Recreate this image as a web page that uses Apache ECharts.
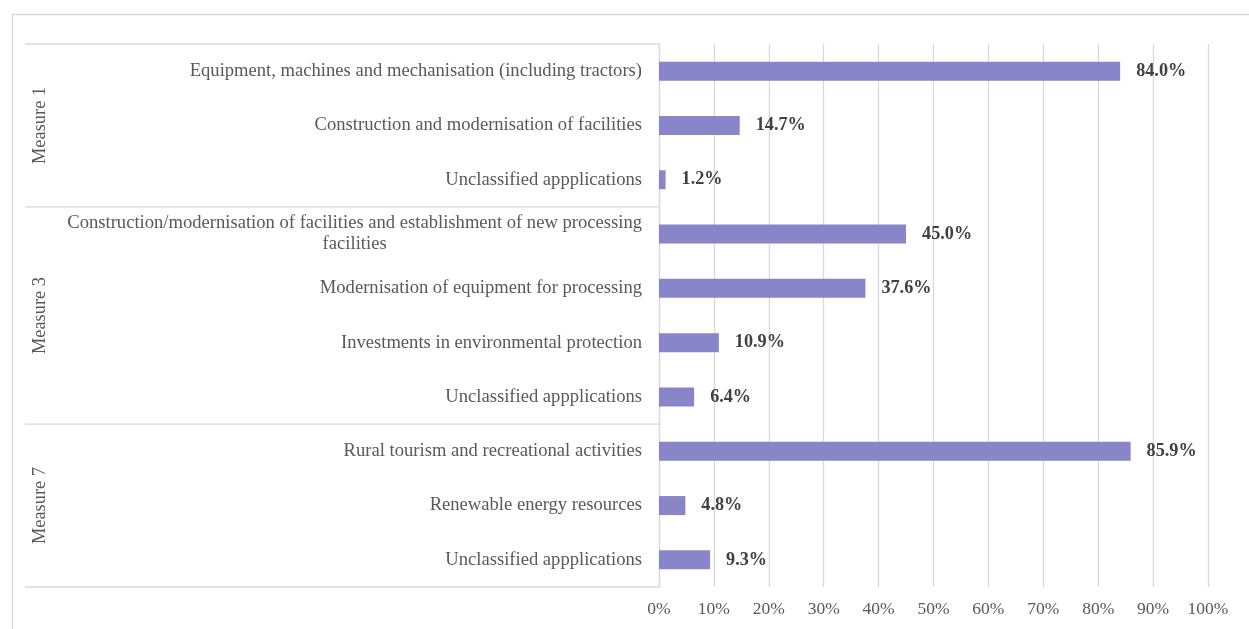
<!DOCTYPE html>
<html>
<head>
<meta charset="utf-8">
<script src="https://cdn.jsdelivr.net/npm/echarts@6/dist/echarts.min.js"></script>
<style>
html,body{margin:0;padding:0;background:#fff;}
#main{width:1249px;height:629px;}
</style>
</head>
<body>
<div id="main"></div>
<script>
const categories = [
  "Equipment, machines and mechanisation (including tractors)",
  "Construction and modernisation of facilities",
  "Unclassified appplications",
  "Construction/modernisation of facilities and establishment of new processing\nfacilities",
  "Modernisation of equipment for processing",
  "Investments in environmental protection",
  "Unclassified appplications",
  "Rural tourism and recreational activities",
  "Renewable energy resources",
  "Unclassified appplications"
];
const values = [84.0, 14.7, 1.2, 45.0, 37.6, 10.9, 6.4, 85.9, 4.8, 9.3];
const groupNames = ["Measure 1", "Measure 3", "Measure 7"];
const groupSizes = [3, 4, 3];
const xTicks = [0, 10, 20, 30, 40, 50, 60, 70, 80, 90, 100];

const FONT = '"Liberation Serif", "Times New Roman", serif';
const chart = echarts.init(document.getElementById('main'));

const option = {
  animation: false,
  backgroundColor: '#fff',
  grid: { left: 659, right: 41, top: 44, bottom: 42, containLabel: false },
  xAxis: {
    type: 'value', min: xTicks[0], max: xTicks[xTicks.length - 1], interval: 10,
    axisLine: { show: false }, axisTick: { show: false },
    splitLine: { show: true, lineStyle: { color: '#d9d9d9', width: 1.3 } },
    axisLabel: { formatter: v => v + '%', color: '#595959', fontFamily: FONT, fontSize: 17.5, margin: 13 }
  },
  yAxis: {
    type: 'category', data: categories, inverse: true,
    axisLine: { show: true, lineStyle: { color: '#d9d9d9', width: 1.3 } },
    axisTick: { show: false },
    axisLabel: {
      color: '#595959', fontFamily: FONT, fontSize: 18.6, margin: 17, align: 'right',
      formatter: function (v) {
        return v.split('\n').map(s => '{c|' + s + '}').join('\n');
      },
      rich: { c: { align: 'center', color: '#595959', fontFamily: FONT, fontSize: 18.6, lineHeight: 21 } }
    }
  },
  series: [{
    type: 'bar', data: values, barWidth: '35%',
    itemStyle: { color: '#8886C8' },
    label: {
      show: true, position: 'right', distance: 16,
      formatter: p => p.value.toFixed(1) + '%',
      fontFamily: FONT, fontWeight: 'bold', fontSize: 18.2, color: '#404040'
    }
  }]
};
chart.setOption(option);

// group separators and labels in the category label area
const p = i => chart.convertToPixel({ yAxisIndex: 0 }, i);
const step = p(1) - p(0);
const edge = k => p(0) + (k - 0.5) * step;
const leftX = 25, axisX = chart.convertToPixel({ xAxisIndex: 0 }, 0);
const graphics = [{
  type: 'rect', shape: { x: 12.5, y: 14.5, width: 1260, height: 700 },
  style: { fill: 'none', stroke: '#d9d9d9', lineWidth: 1.3 }, silent: true
}];
let start = 0;
const bounds = [0];
groupSizes.forEach(n => { start += n; bounds.push(start); });
bounds.forEach(b => {
  const y = edge(b);
  graphics.push({ type: 'line', shape: { x1: leftX, y1: y, x2: axisX, y2: y },
    style: { stroke: '#d9d9d9', lineWidth: 1.3 }, silent: true });
});
groupNames.forEach((name, g) => {
  const yc = (edge(bounds[g]) + edge(bounds[g + 1])) / 2;
  graphics.push({ type: 'text', x: 40, y: yc, rotation: Math.PI / 2,
    style: { text: name, fill: '#595959', font: '18.4px ' + FONT, align: 'center', verticalAlign: 'middle' },
    silent: true });
});
chart.setOption({ graphic: graphics });
</script>
</body>
</html>
